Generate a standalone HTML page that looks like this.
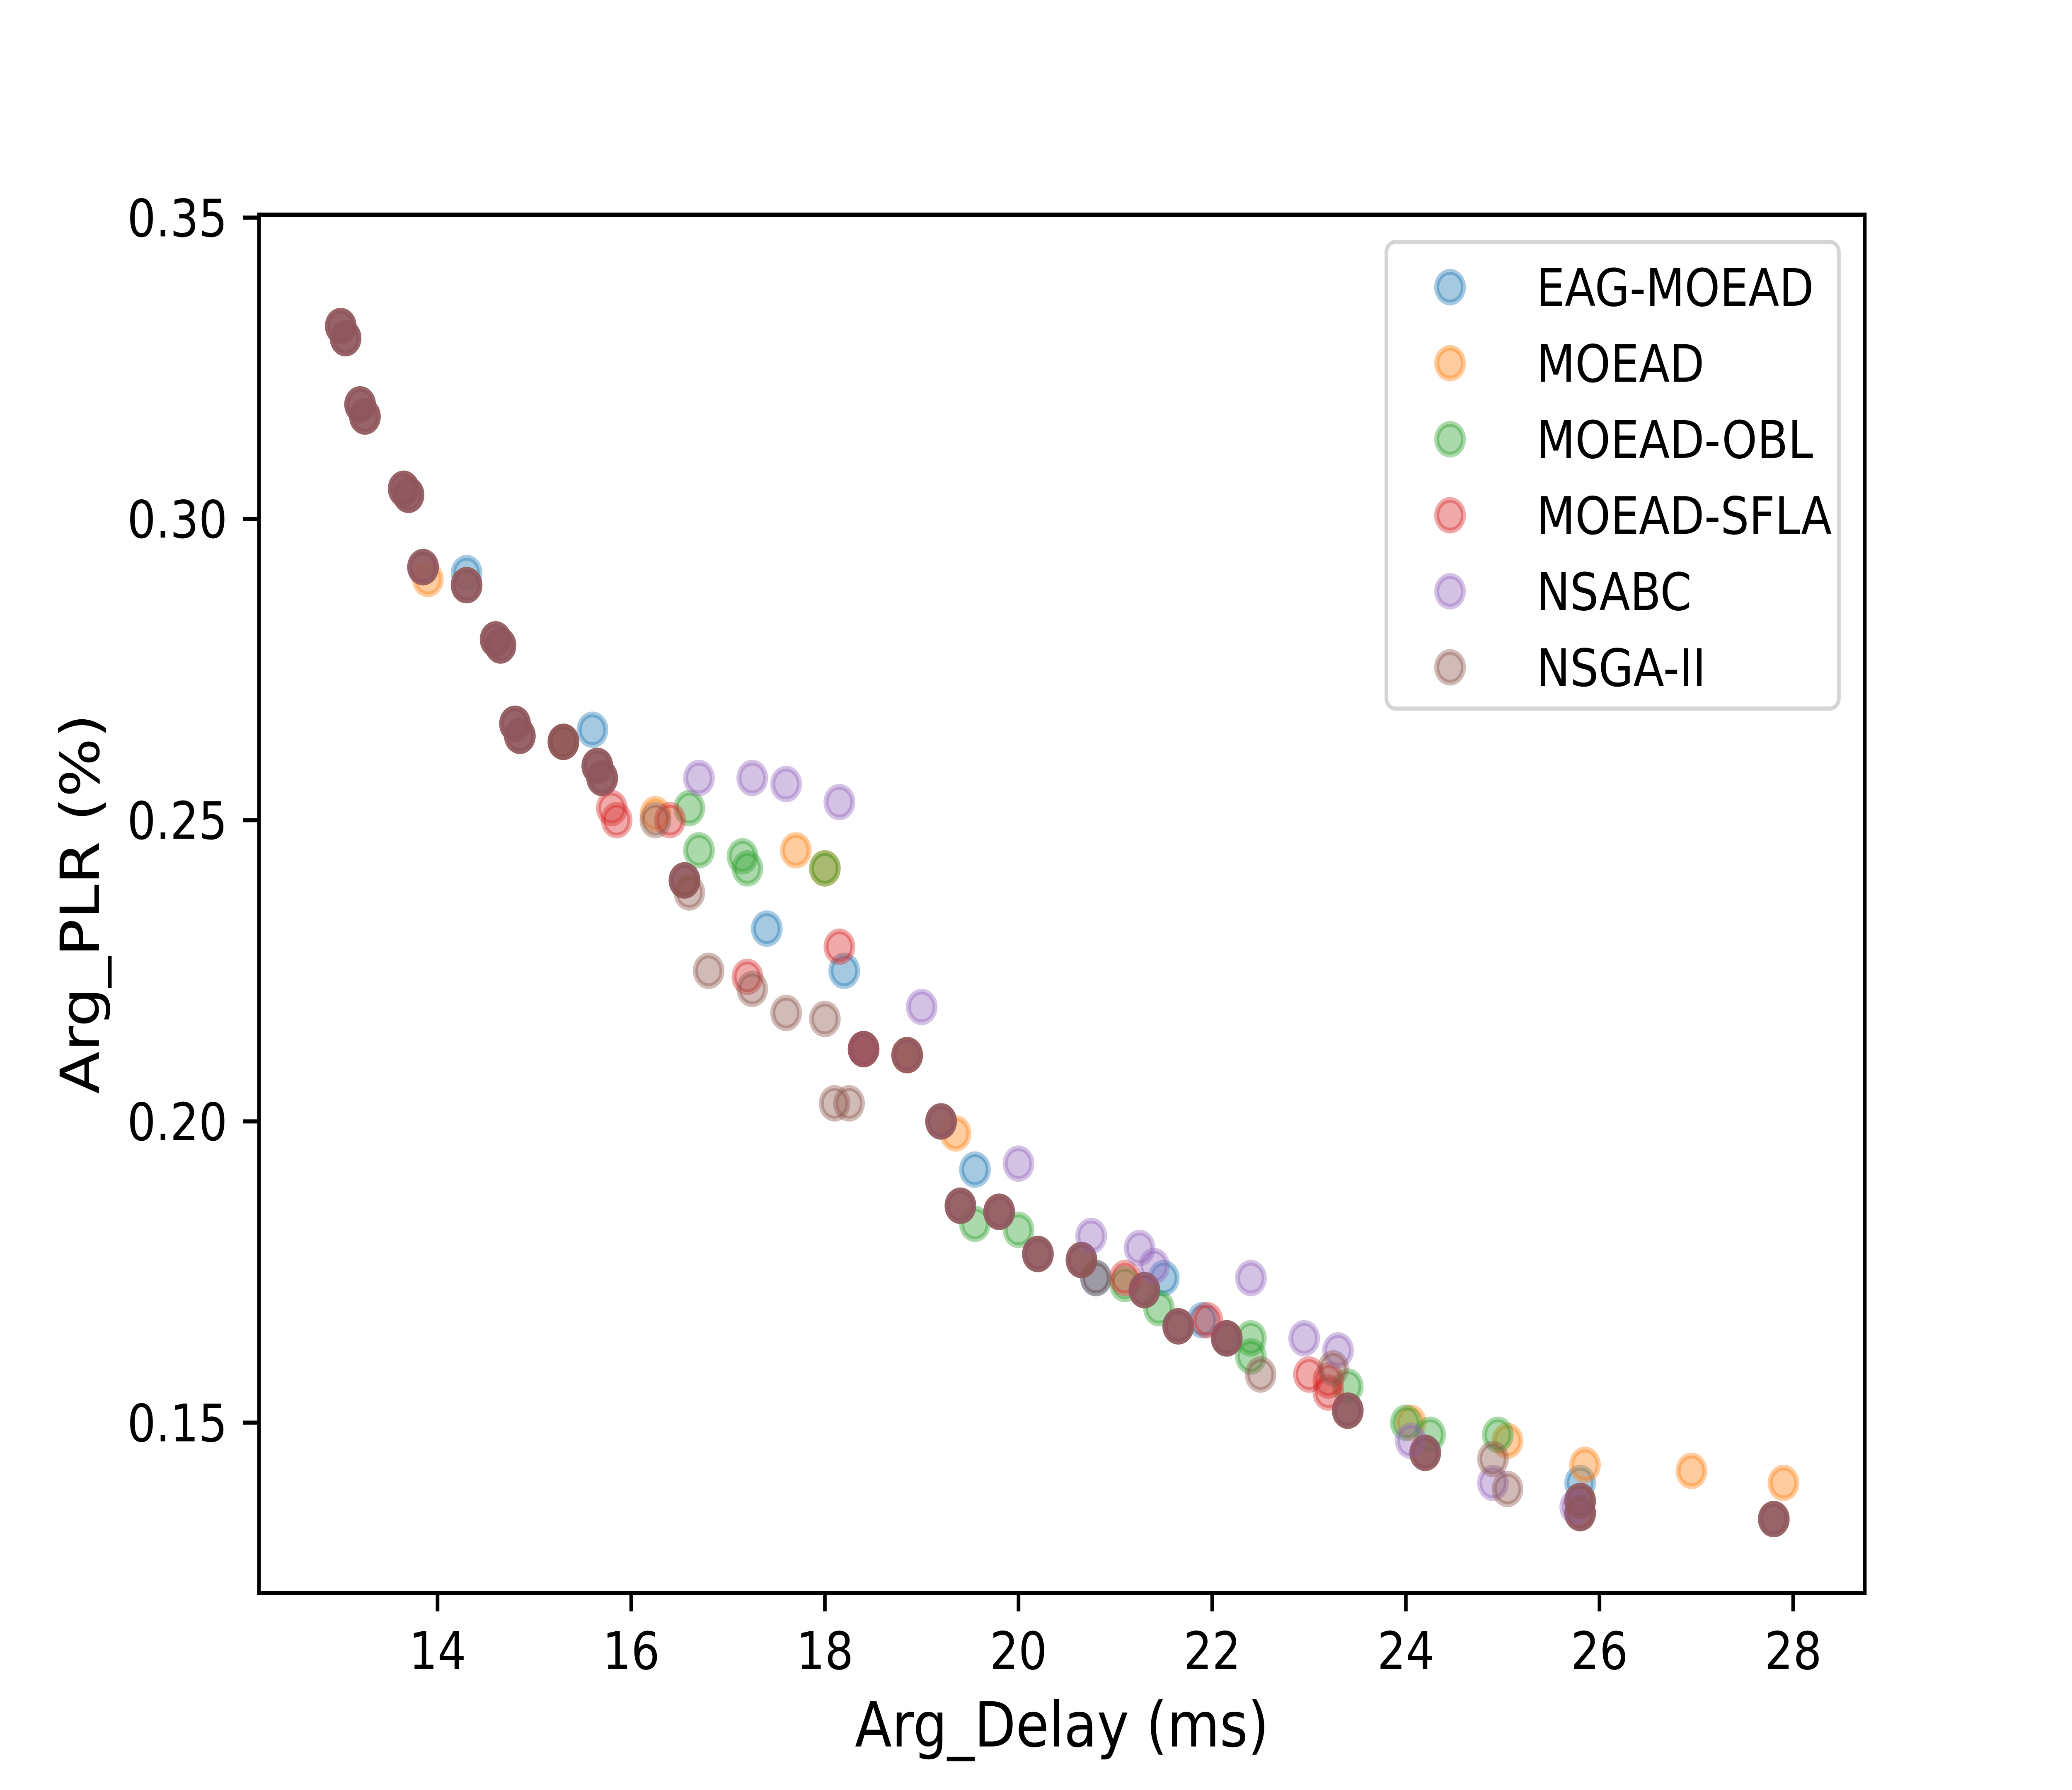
<!DOCTYPE html>
<html><head><meta charset="utf-8"><style>html,body{margin:0;padding:0;background:#fff;overflow:hidden;width:100%;height:100%}svg{display:block;width:100vw;height:100vh}text{font-family:"DejaVu Sans","Liberation Sans",sans-serif;fill:#000}</style></head>
<body>
<svg id="chart" viewBox="0 0 5760 4320" preserveAspectRatio="none" xmlns="http://www.w3.org/2000/svg">
<rect width="5760" height="4320" fill="#fff"/>
<g id="marks"></g>
<g id="axes"></g>
<g id="legend"></g>
</svg>
<script>
const seriesNames = ["EAG-MOEAD","MOEAD","MOEAD-OBL","MOEAD-SFLA","NSABC","NSGA-II"];
const seriesColors = ["#1f77b4","#ff7f0e","#2ca02c","#d62728","#9467bd","#8c564b"];
const xTicks = [14,16,18,20,22,24,26,28];
const yTicks = [0.15,0.20,0.25,0.30,0.35];
const frontX = [13.0,13.05,13.2,13.25,13.65,13.7,13.85,14.3,14.6,14.65,14.8,14.85,15.3,15.65,15.7,16.55,18.4,18.85,19.2,19.4,19.8,20.2,20.65,21.3,21.65,22.15,23.4,24.2,25.8,25.8,27.8];
const frontY = [0.332,0.330,0.319,0.317,0.305,0.304,0.292,0.289,0.280,0.279,0.266,0.264,0.263,0.259,0.257,0.240,0.212,0.211,0.200,0.186,0.185,0.178,0.177,0.172,0.166,0.164,0.152,0.145,0.137,0.135,0.134];
const eagX = [14.3,15.6,17.4,18.2,19.55,21.5,21.9,25.8,20.8,22.15];
const eagY = [0.291,0.265,0.232,0.225,0.192,0.174,0.167,0.140,0.174,0.164];
const moeadX = [13.9,17.7,18.0,19.35,18.85,24.05,25.05,25.85,26.95,27.9,16.25];
const moeadY = [0.290,0.245,0.242,0.198,0.211,0.150,0.147,0.143,0.142,0.140,0.251];
const oblX = [16.6,16.7,17.15,17.2,18.0,19.55,20.0,21.1,21.45,22.4,22.4,23.4,24.25,24.95,24.0];
const oblY = [0.252,0.245,0.244,0.242,0.242,0.183,0.182,0.173,0.169,0.164,0.161,0.156,0.148,0.148,0.150];
const sflaX = [15.8,15.85,16.4,17.2,18.15,18.4,21.1,21.95,23.0,23.2,23.2];
const sflaY = [0.252,0.250,0.250,0.224,0.229,0.212,0.174,0.167,0.158,0.155,0.157];
const nsabcX = [16.7,17.25,17.6,18.15,19.0,20.0,20.75,21.25,21.4,22.4,22.95,23.3,24.05,24.9,25.75];
const nsabcY = [0.257,0.257,0.256,0.253,0.219,0.193,0.181,0.179,0.176,0.174,0.164,0.162,0.147,0.140,0.136];
const nsgaX = [16.25,16.6,16.8,17.25,17.6,18.0,18.1,18.25,20.8,22.5,23.25,24.9,25.05,15.3];
const nsgaY = [0.250,0.238,0.225,0.222,0.218,0.217,0.203,0.203,0.174,0.158,0.159,0.144,0.139,0.263];

const NS="http://www.w3.org/2000/svg";
const L=720,R=5184,T=518,B=3845;
const xMin=12.156,xMax=28.74,yMin=0.1217,yMax=0.3505;
function sx(v){return L+(v-xMin)/(xMax-xMin)*(R-L);}
function sy(v){return B-(v-yMin)/(yMax-yMin)*(B-T);}
function mk(tag,attrs,parent){const e=document.createElementNS(NS,tag);for(const k in attrs)e.setAttribute(k,attrs[k]);parent.appendChild(e);return e;}
const marks=document.getElementById('marks'),axes=document.getElementById('axes'),legend=document.getElementById('legend');
const uniqueX=[eagX,moeadX,oblX,sflaX,nsabcX,nsgaX],uniqueY=[eagY,moeadY,oblY,sflaY,nsabcY,nsgaY];
for(let s=0;s<seriesNames.length;s++){
  const g=mk('g',{},marks);
  
  
  const xs=frontX.concat(uniqueX[s]),ys=frontY.concat(uniqueY[s]);
  for(let i=0;i<xs.length;i++){
    const c=mk('circle',{cx:sx(xs[i]),cy:sy(ys[i]),r:37,fill:seriesColors[s],'fill-opacity':0.4,stroke:seriesColors[s],'stroke-opacity':0.4,'stroke-width':14},g);
    
    
  }
}
const frame=mk('rect',{x:L,y:T,width:R-L,height:B-T,fill:'none',stroke:'#000','stroke-width':10},axes);


xTicks.forEach(t=>{
  const x=sx(t);
  mk('line',{x1:x,x2:x,y1:B,y2:B+44,stroke:'#000','stroke-width':10},axes);
  const tx=mk('text',{x:x,y:B+44+44+95,'text-anchor':'middle','font-size':125},axes);
  tx.textContent=t;
  
  
});
yTicks.forEach(t=>{
  const y=sy(t);
  mk('line',{x1:L-44,x2:L,y1:y,y2:y,stroke:'#000','stroke-width':10},axes);
  const tx=mk('text',{x:L-44-44,y:y+45,'text-anchor':'end','font-size':125},axes);
  tx.textContent=t.toFixed(2);
  
  
});
const xl=mk('text',{x:(L+R)/2,y:4215,'text-anchor':'middle','font-size':150},axes);
xl.textContent='Arg_Delay (ms)';


const yl=mk('text',{x:0,y:0,'text-anchor':'middle','font-size':150,transform:'translate(275,'+((T+B)/2)+') rotate(-90)'},axes);
yl.textContent='Arg_PLR (%)';


const lb=mk('rect',{x:3854,y:584,width:1258,height:1126,rx:25,fill:'#fff','fill-opacity':0.8,stroke:'#d5d5d5','stroke-width':10},legend);


for(let s=0;s<seriesNames.length;s++){
  const y=693+s*183.5;
  const g=mk('g',{},legend);
  
  
  mk('circle',{cx:4031,cy:y,r:37,fill:seriesColors[s],'fill-opacity':0.4,stroke:seriesColors[s],'stroke-opacity':0.4,'stroke-width':14},g);
  const t=mk('text',{x:4271,y:y+45,'font-size':125},g);
  t.textContent=seriesNames[s];
}
</script>
</body></html>
